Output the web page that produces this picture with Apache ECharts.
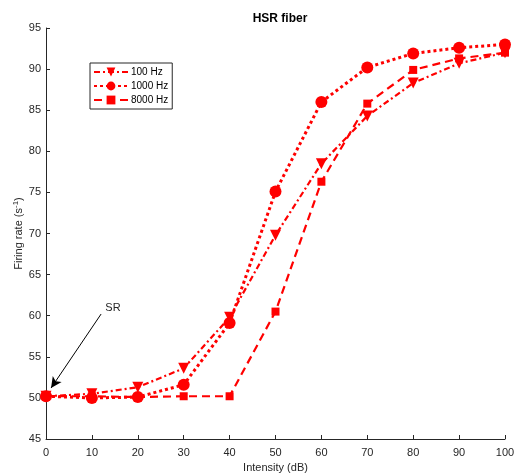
<!DOCTYPE html>
<html>
<head>
<meta charset="utf-8">
<script src="https://cdn.jsdelivr.net/npm/echarts@6/dist/echarts.min.js"></script>
<style>
  html, body { margin: 0; padding: 0; background: #fff; }
  #chart { width: 514px; height: 475px; }
</style>
</head>
<body>
<div id="chart"></div>
<script>
// Sound intensity levels (dB)
const intensity = [0, 10, 20, 30, 40, 50, 60, 70, 80, 90, 100];

// Firing rates (spikes/s) of a high-spontaneous-rate fiber at three tone frequencies
const rate100 = [50.2, 50.5, 51.3, 53.6, 59.8, 69.8, 78.5, 84.3, 88.3, 90.7, 92.0];
const rate1000 = [50.2, 50.0, 50.1, 51.6, 59.1, 75.1, 86.0, 90.2, 91.9, 92.6, 93.0];
const rate8000 = [50.2, 50.2, 50.1, 50.2, 50.2, 60.5, 76.3, 85.8, 89.9, 91.3, 92.0];

const seriesNames = ['100 Hz', '1000 Hz', '8000 Hz'];

// Spontaneous-rate annotation: arrow toward the 0 dB point, with its text label
const srArrowFrom = [12.0, 60.2];
const srArrowTo = [1.1, 51.2];
const srLabelAt = [14.6, 61.0];

const FONT = 'Liberation Sans, Arial, sans-serif';
const RED = '#ff0000';
const INK = '#262626';

const pair = arr => intensity.map((x, i) => [x, arr[i]]);

const chart = echarts.init(document.getElementById('chart'), null, { renderer: 'canvas' });

chart.setOption({
  animation: false,
  backgroundColor: '#fff',
  textStyle: { fontFamily: FONT },
  title: {
    text: 'HSR fiber',
    left: 275,
    textAlign: 'center',
    top: 8,
    textStyle: { fontFamily: FONT, fontSize: 12, fontWeight: 'bold', color: '#000' }
  },
  grid: { left: 46, right: 9, top: 28, bottom: 36, containLabel: false, outerBoundsMode: 'none' },
  legend: {
    left: 90,
    top: 63,
    orient: 'vertical',
    backgroundColor: '#fff',
    borderColor: INK,
    borderWidth: 1,
    borderRadius: 0,
    padding: [4, 4, 4, 3],
    itemGap: 4,
    itemWidth: 34,
    itemHeight: 11,
    textStyle: { fontFamily: FONT, fontSize: 10, color: '#000', padding: [0, 0, 0, -2] },
    data: seriesNames
  },
  xAxis: {
    type: 'value',
    min: 0,
    max: 100,
    interval: 10,
    name: 'Intensity (dB)',
    nameLocation: 'middle',
    nameGap: 23,
    nameMoveOverlap: false,
    nameTextStyle: { fontFamily: FONT, fontSize: 11, color: INK },
    axisLine: { lineStyle: { color: INK, width: 1 } },
    axisTick: { inside: true, length: 4, lineStyle: { color: INK } },
    axisLabel: { fontFamily: FONT, fontSize: 11, color: INK, margin: 8 },
    splitLine: { show: false }
  },
  yAxis: {
    type: 'value',
    min: 45,
    max: 95,
    interval: 5,
    name: 'Firing rate (s{sup|-1})',
    nameLocation: 'middle',
    nameRotate: 90,
    nameGap: 20,
    nameMoveOverlap: false,
    nameTextStyle: {
      fontFamily: FONT, fontSize: 11, color: INK,
      rich: { sup: { fontFamily: FONT, fontSize: 8, color: INK, verticalAlign: 'top', padding: [0, 0, 6, 0] } }
    },
    axisLine: { show: true, lineStyle: { color: INK, width: 1 } },
    axisTick: { show: true, inside: true, length: 4, lineStyle: { color: INK } },
    axisLabel: { fontFamily: FONT, fontSize: 11, color: INK, margin: 5 },
    splitLine: { show: false }
  },
  series: [
    {
      name: seriesNames[0],
      type: 'line',
      data: pair(rate100),
      symbol: 'triangle',
      symbolRotate: 180,
      symbolSize: 11,
      itemStyle: { color: RED },
      lineStyle: { color: RED, width: 2.2, type: [6, 3, 2, 3] },
      z: 3,
      markLine: {
        silent: true,
        symbol: ['none', 'arrow'],
        symbolSize: [8, 11],
        lineStyle: { color: '#000', width: 1, type: 'solid' },
        label: { show: false },
        data: [[{ coord: srArrowFrom }, { coord: srArrowTo }]]
      },
      markPoint: {
        silent: true,
        symbol: 'circle',
        symbolSize: 0,
        itemStyle: { color: 'transparent' },
        label: {
          show: true,
          position: 'inside',
          formatter: 'SR',
          fontFamily: FONT,
          fontSize: 11,
          color: INK
        },
        data: [{ coord: srLabelAt }]
      }
    },
    {
      name: seriesNames[1],
      type: 'line',
      data: pair(rate1000),
      symbol: 'circle',
      symbolSize: 12,
      itemStyle: { color: RED },
      lineStyle: { color: RED, width: 3, type: [3, 3] },
      z: 2
    },
    {
      name: seriesNames[2],
      type: 'line',
      data: pair(rate8000),
      symbol: 'rect',
      symbolSize: 8,
      itemStyle: { color: RED },
      lineStyle: { color: RED, width: 2.2, type: [8, 5] },
      z: 1
    }
  ]
});
</script>
</body>
</html>
